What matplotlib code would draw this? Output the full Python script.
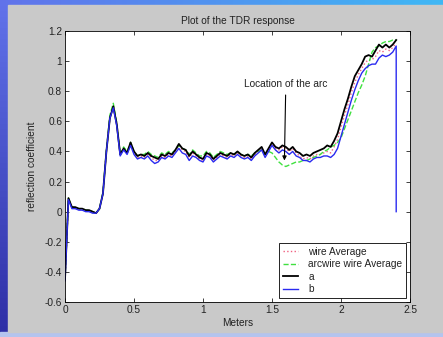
import numpy as np
import matplotlib.pyplot as plt
from matplotlib.patches import Rectangle

# distance along the line (m), sampled every 0.025 m
meters = np.linspace(0, 2.4, 97)

wire_avg = [
    -0.45, 0.08, 0.03, 0.02, 0.02, 0.01, 0.01, 0.00, 0.00, -0.01,
    0.02, 0.12, 0.40, 0.62, 0.70, 0.58, 0.38, 0.42, 0.39, 0.45,
    0.39, 0.36, 0.37, 0.36, 0.38, 0.36, 0.34, 0.34, 0.37, 0.36,
    0.38, 0.37, 0.40, 0.44, 0.41, 0.40, 0.36, 0.39, 0.37, 0.35,
    0.34, 0.38, 0.37, 0.34, 0.36, 0.38, 0.37, 0.36, 0.38, 0.37,
    0.39, 0.37, 0.36, 0.37, 0.35, 0.38, 0.40, 0.42, 0.37, 0.41,
    0.45, 0.42, 0.41, 0.43, 0.42, 0.40, 0.42, 0.39, 0.37, 0.35,
    0.36, 0.35, 0.37, 0.38, 0.38, 0.39, 0.40, 0.39, 0.43, 0.48,
    0.56, 0.64, 0.71, 0.79, 0.86, 0.91, 0.95, 0.99, 1.01, 1.01,
    1.03, 1.07, 1.06, 1.08, 1.07, 1.09, 1.12]

arcwire_avg = [
    -0.45, 0.09, 0.03, 0.03, 0.02, 0.02, 0.01, 0.01, 0.00, -0.01,
    0.02, 0.13, 0.41, 0.64, 0.72, 0.59, 0.38, 0.43, 0.40, 0.46,
    0.40, 0.37, 0.38, 0.38, 0.40, 0.38, 0.37, 0.36, 0.39, 0.38,
    0.40, 0.39, 0.41, 0.44, 0.42, 0.41, 0.38, 0.41, 0.39, 0.37,
    0.37, 0.40, 0.39, 0.36, 0.38, 0.40, 0.39, 0.38, 0.39, 0.38,
    0.40, 0.38, 0.37, 0.38, 0.37, 0.39, 0.40, 0.41, 0.38, 0.40,
    0.39, 0.36, 0.33, 0.31, 0.30, 0.31, 0.32, 0.33, 0.33, 0.34,
    0.34, 0.35, 0.36, 0.37, 0.38, 0.40, 0.41, 0.43, 0.44, 0.46,
    0.49, 0.55, 0.61, 0.67, 0.73, 0.79, 0.84, 0.90, 0.98, 1.06,
    1.09, 1.10, 1.12, 1.13, 1.13, 1.14, 1.14]

a = [
    -0.45, 0.09, 0.03, 0.03, 0.02, 0.02, 0.01, 0.01, 0.00, -0.01,
    0.02, 0.12, 0.40, 0.62, 0.70, 0.58, 0.38, 0.42, 0.39, 0.46,
    0.40, 0.37, 0.38, 0.37, 0.39, 0.37, 0.36, 0.35, 0.38, 0.37,
    0.39, 0.38, 0.41, 0.45, 0.42, 0.41, 0.37, 0.40, 0.38, 0.36,
    0.35, 0.39, 0.38, 0.35, 0.37, 0.39, 0.38, 0.37, 0.39, 0.38,
    0.40, 0.38, 0.37, 0.38, 0.36, 0.39, 0.41, 0.43, 0.38, 0.42,
    0.46, 0.43, 0.42, 0.44, 0.43, 0.41, 0.43, 0.40, 0.39, 0.37,
    0.38, 0.37, 0.39, 0.40, 0.41, 0.42, 0.44, 0.43, 0.47, 0.52,
    0.60, 0.68, 0.75, 0.83, 0.90, 0.94, 0.98, 1.03, 1.04, 1.03,
    1.07, 1.11, 1.09, 1.11, 1.09, 1.11, 1.14]

b = [
    -0.46, 0.08, 0.02, 0.02, 0.01, 0.01, 0.00, 0.00, -0.01, -0.01,
    0.02, 0.12, 0.40, 0.62, 0.69, 0.57, 0.37, 0.41, 0.38, 0.44,
    0.38, 0.35, 0.36, 0.35, 0.37, 0.34, 0.32, 0.33, 0.36, 0.35,
    0.37, 0.36, 0.39, 0.42, 0.39, 0.38, 0.34, 0.37, 0.36, 0.34,
    0.33, 0.37, 0.36, 0.33, 0.35, 0.37, 0.36, 0.35, 0.37, 0.36,
    0.38, 0.36, 0.35, 0.36, 0.34, 0.37, 0.39, 0.41, 0.36, 0.40,
    0.44, 0.41, 0.39, 0.41, 0.40, 0.38, 0.40, 0.37, 0.36, 0.34,
    0.34, 0.33, 0.35, 0.36, 0.36, 0.37, 0.37, 0.36, 0.38, 0.42,
    0.50, 0.58, 0.66, 0.74, 0.81, 0.87, 0.92, 0.95, 0.97, 0.98,
    0.98, 1.02, 1.04, 1.03, 1.04, 1.06, 1.10]
# trace b falls back to zero at the end of the record
b_end_x, b_end_y = 2.4, 0.0

plt.rcParams['font.family'] = ['Liberation Sans', 'DejaVu Sans']

fig = plt.figure(figsize=(4.43, 3.37), dpi=100)

# slide background: blue gradient behind a grey figure panel
bg = fig.add_axes([0, 0, 1, 1], zorder=-10)
h, w = 60, 80
gx = np.linspace(0, 1, w)[None, :, None]
gy = np.linspace(0, 1, h)[:, None, None]
top_left = np.array([0.38, 0.45, 0.92])
top_right = np.array([0.25, 0.72, 0.96])
bottom = np.array([0.18, 0.18, 0.65])
grad = (1 - gy) * ((1 - gx) * top_left + gx * top_right) + gy * bottom
bg.imshow(grad, aspect='auto', extent=[0, 1, 0, 1])
bg.add_patch(Rectangle((0, 0), 1, 5 / 337, color='#b4c4ee'))
bg.add_patch(Rectangle((8 / 443, 5 / 337), 1, 327 / 337, color='#c9c9c9'))
bg.set_xlim(0, 1)
bg.set_ylim(0, 1)
bg.axis('off')

txt = '#222222'
ax = fig.add_axes([65 / 443, 35 / 337, 345 / 443, 271 / 337])
ax.plot(meters, wire_avg, color='#f06080', ls=':', lw=1.0, label='wire Average')
ax.plot(meters, arcwire_avg, color='#40e040', ls='--', lw=1.0, label='arcwire wire Average')
ax.plot(meters, a, color='black', lw=1.3, label='a')
ax.plot(list(meters) + [b_end_x], b + [b_end_y], color='#2a2af0', lw=1.0, label='b')

ax.annotate('Location of the arc', xy=(1.59, 0.34), xytext=(1.6, 0.845),
            ha='center', va='center', fontsize=7.3, color=txt,
            arrowprops=dict(arrowstyle='-|>', color='black', lw=0.8,
                            mutation_scale=6, shrinkA=2, shrinkB=0))

ax.set_xlim(0, 2.5)
ax.set_ylim(-0.6, 1.2)
ax.set_xticks(np.arange(0, 2.51, 0.5))
ax.set_xticklabels(['0', '0.5', '1', '1.5', '2', '2.5'])
ax.set_yticks(np.round(np.arange(-0.6, 1.21, 0.2), 1))
ax.set_yticklabels(['-0.6', '-0.4', '-0.2', '0', '0.2', '0.4', '0.6', '0.8', '1', '1.2'])
ax.tick_params(direction='in', top=True, right=True, labelsize=7.3,
               length=3, width=0.6, colors=txt, pad=2)
for s in ax.spines.values():
    s.set_linewidth(0.6)
ax.set_title('Plot of the TDR response', fontsize=7.3, color=txt, pad=5)
ax.set_xlabel('Meters', fontsize=7.3, color=txt, labelpad=2)
ax.set_ylabel('reflection coefficient', fontsize=7.3, color=txt, labelpad=6)

leg = ax.legend(loc='lower right', fontsize=7.3, fancybox=False, framealpha=1,
                edgecolor='black', handlelength=1.5, labelspacing=0.25,
                borderaxespad=0.4, borderpad=0.35, handletextpad=1.0)
leg.get_frame().set_linewidth(0.6)
for t in leg.get_texts():
    t.set_color(txt)

fig.savefig('out.png', dpi=100)
